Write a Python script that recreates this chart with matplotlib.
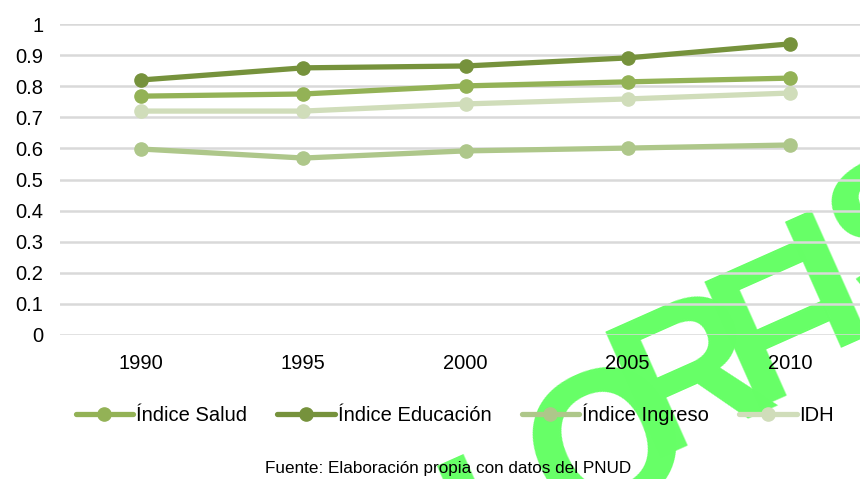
import matplotlib
matplotlib.use("Agg")
import matplotlib.pyplot as plt

years = ["1990", "1995", "2000", "2005", "2010"]
salud = [0.768, 0.775, 0.801, 0.814, 0.826]
educacion = [0.820, 0.859, 0.865, 0.891, 0.936]
ingreso = [0.598, 0.569, 0.592, 0.601, 0.611]
idh = [0.720, 0.720, 0.743, 0.759, 0.778]
series_names = ["Índice Salud", "Índice Educación", "Índice Ingreso", "IDH"]
colors = ["#93B256", "#76923C", "#AEC78A", "#D0DDBA"]
yticks = [0, 0.1, 0.2, 0.3, 0.4, 0.5, 0.6, 0.7, 0.8, 0.9, 1]
ytick_labels = ["0", "0.1", "0.2", "0.3", "0.4", "0.5", "0.6", "0.7", "0.8", "0.9", "1"]
source_text = "Fuente: Elaboración propia con datos del PNUD"
watermark_letters = ["L", "O", "R", "F", "I", "S"]

plt.rcParams["font.family"] = ["Liberation Sans", "DejaVu Sans"]

W, H = 860, 479
fig = plt.figure(figsize=(W / 100, H / 100), dpi=100)

# watermark letters (background)
wm_pos = [(515, 520), (612, 452), (693, 380), (782, 335), (832, 290), (905, 238)]
for ch, (px, py) in zip(watermark_letters, wm_pos):
    fig.text(px / W, 1 - py / H, ch, fontsize=145, fontweight="bold",
             family=["Liberation Sans"], color="#66FF66", rotation=24,
             ha="center", va="center", zorder=-5)

ax = fig.add_axes([60 / W, 1 - 335 / H, (871 - 60) / W, (335 - 24) / H])
ax.patch.set_alpha(0)
x = list(range(len(years)))
for vals, name, c in zip([salud, educacion, ingreso, idh], series_names, colors):
    ax.plot(x, vals, color=c, lw=3.8, marker="o", ms=9.5, label=name,
            solid_capstyle="round", zorder=3, clip_on=False)

ax.set_xlim(-0.5, 4.5)
ax.set_ylim(0, 1)
ax.set_yticks(yticks)
ax.set_yticklabels(ytick_labels)
ax.set_xticks(x)
ax.set_xticklabels(years)
ax.tick_params(axis="both", length=0, labelsize=14.5, colors="#000000")
ax.tick_params(axis="y", pad=12)
ax.tick_params(axis="x", pad=14)
ax.grid(axis="y", color="#D9D9D9", lw=1.8)
ax.set_axisbelow(True)
for s in ax.spines.values():
    s.set_visible(False)

leg = fig.legend(loc="center", bbox_to_anchor=(455 / W, 1 - 414 / H), ncol=4,
                 frameon=False, fontsize=14.5, handlelength=2.85, handletextpad=0.15,
                 columnspacing=1.5, borderpad=0, borderaxespad=0)

fig.text(448 / W, 1 - 469 / H, source_text, ha="center", va="center", fontsize=12.3)

fig.savefig("out.png", dpi=100)
